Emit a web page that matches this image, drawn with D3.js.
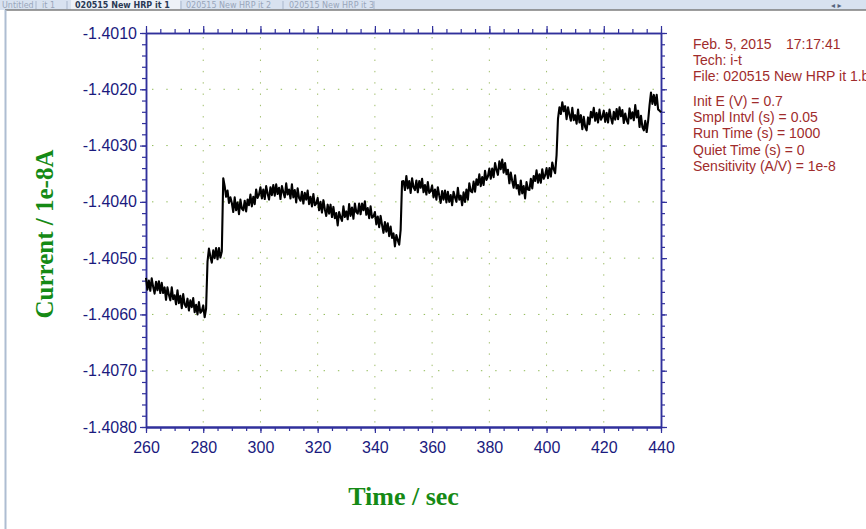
<!DOCTYPE html>
<html>
<head>
<meta charset="utf-8">
<script src="https://cdn.jsdelivr.net/npm/d3@7"></script>
<style>
  html, body { margin: 0; padding: 0; background: #ffffff; }
  svg { display: block; }
</style>
</head>
<body>
<svg id="chart" width="866" height="529"></svg>
<script>
// i-t trace: current (units of 1e-8 A) sampled every 0.5 s from 260 s to 440 s
const startTime = 260;
const sampleStep = 0.5;
const current = [
  -1.40535,-1.40556,-1.40540,-1.40558,-1.40536,-1.40551,-1.40563,-1.40542,-1.40557,-1.40541, // 260
  -1.40562,-1.40544,-1.40562,-1.40552,-1.40574,-1.40552,-1.40565,-1.40575,-1.40552,-1.40573, // 265
  -1.40566,-1.40582,-1.40557,-1.40580,-1.40567,-1.40589,-1.40564,-1.40582,-1.40587,-1.40572, // 270
  -1.40593,-1.40575,-1.40587,-1.40571,-1.40596,-1.40583,-1.40600,-1.40578,-1.40597,-1.40594, // 275
  -1.40584,-1.40605,-1.40590,-1.40506,-1.40483,-1.40497,-1.40508,-1.40486,-1.40500,-1.40482, // 280
  -1.40502,-1.40482,-1.40499,-1.40488,-1.40358,-1.40372,-1.40391,-1.40380,-1.40402,-1.40392, // 285
  -1.40402,-1.40418,-1.40392,-1.40415,-1.40401,-1.40422,-1.40396,-1.40412,-1.40415,-1.40398, // 290
  -1.40417,-1.40396,-1.40406,-1.40387,-1.40408,-1.40391,-1.40404,-1.40378,-1.40393,-1.40387, // 295
  -1.40374,-1.40394,-1.40378,-1.40395,-1.40372,-1.40385,-1.40396,-1.40374,-1.40388,-1.40370, // 300
  -1.40389,-1.40369,-1.40386,-1.40375,-1.40395,-1.40372,-1.40383,-1.40392,-1.40367,-1.40387, // 305
  -1.40378,-1.40394,-1.40369,-1.40392,-1.40379,-1.40401,-1.40376,-1.40393,-1.40398,-1.40382, // 310
  -1.40403,-1.40384,-1.40396,-1.40380,-1.40404,-1.40391,-1.40408,-1.40386,-1.40406,-1.40403, // 315
  -1.40393,-1.40415,-1.40400,-1.40419,-1.40397,-1.40413,-1.40425,-1.40405,-1.40421,-1.40405, // 320
  -1.40427,-1.40409,-1.40429,-1.40420,-1.40442,-1.40418,-1.40427,-1.40434,-1.40408,-1.40427, // 325
  -1.40417,-1.40431,-1.40404,-1.40425,-1.40410,-1.40430,-1.40403,-1.40418,-1.40421,-1.40403, // 330
  -1.40422,-1.40403,-1.40415,-1.40399,-1.40423,-1.40411,-1.40429,-1.40408,-1.40428,-1.40426, // 335
  -1.40418,-1.40440,-1.40426,-1.40445,-1.40425,-1.40441,-1.40455,-1.40436,-1.40453,-1.40438, // 340
  -1.40461,-1.40444,-1.40464,-1.40456,-1.40479,-1.40459,-1.40468,-1.40476,-1.40450,-1.40364, // 345
  -1.40363,-1.40379,-1.40354,-1.40376,-1.40363,-1.40384,-1.40358,-1.40374,-1.40379,-1.40362, // 350
  -1.40383,-1.40363,-1.40375,-1.40359,-1.40383,-1.40370,-1.40387,-1.40365,-1.40384,-1.40381, // 355
  -1.40371,-1.40392,-1.40378,-1.40396,-1.40374,-1.40389,-1.40402,-1.40381,-1.40396,-1.40380, // 360
  -1.40401,-1.40382,-1.40400,-1.40388,-1.40406,-1.40382,-1.40392,-1.40400,-1.40375,-1.40396, // 365
  -1.40389,-1.40406,-1.40383,-1.40400,-1.40378,-1.40396,-1.40367,-1.40381,-1.40383,-1.40364, // 370
  -1.40382,-1.40360,-1.40370,-1.40351,-1.40372,-1.40356,-1.40370,-1.40345,-1.40361,-1.40355, // 375
  -1.40341,-1.40359,-1.40341,-1.40356,-1.40331,-1.40343,-1.40352,-1.40328,-1.40342,-1.40325, // 380
  -1.40348,-1.40331,-1.40351,-1.40343,-1.40367,-1.40348,-1.40363,-1.40375,-1.40353,-1.40376, // 385
  -1.40370,-1.40387,-1.40362,-1.40385,-1.40372,-1.40394,-1.40365,-1.40378,-1.40379,-1.40359, // 390
  -1.40376,-1.40354,-1.40363,-1.40344,-1.40366,-1.40351,-1.40366,-1.40342,-1.40359,-1.40353, // 395
  -1.40340,-1.40358,-1.40340,-1.40355,-1.40330,-1.40342,-1.40349,-1.40317,-1.40252,-1.40232, // 400
  -1.40244,-1.40223,-1.40239,-1.40230,-1.40253,-1.40232,-1.40245,-1.40256,-1.40233,-1.40255, // 405
  -1.40246,-1.40261,-1.40236,-1.40259,-1.40246,-1.40271,-1.40249,-1.40267,-1.40273,-1.40250, // 410
  -1.40262,-1.40240,-1.40250,-1.40233,-1.40256,-1.40242,-1.40259,-1.40236,-1.40254,-1.40249, // 415
  -1.40238,-1.40258,-1.40242,-1.40259,-1.40236,-1.40250,-1.40261,-1.40240,-1.40254,-1.40235, // 420
  -1.40253,-1.40232,-1.40248,-1.40237,-1.40260,-1.40243,-1.40255,-1.40261,-1.40234,-1.40252, // 425
  -1.40241,-1.40255,-1.40228,-1.40250,-1.40238,-1.40267,-1.40247,-1.40267,-1.40273,-1.40256, // 430
  -1.40276,-1.40256,-1.40228,-1.40206,-1.40226,-1.40210,-1.40228,-1.40210,-1.40236,-1.40238, // 435
  -1.40241                                                                                    // 440
];

// axis ticks
const timeTicks = [260, 280, 300, 320, 340, 360, 380, 400, 420, 440];
const currentTicks = [-1.4010, -1.4020, -1.4030, -1.4040, -1.4050, -1.4060, -1.4070, -1.4080];

// instrument header lines
const headerLines = [
  "Tech: i-t",
  "File: 020515 New HRP it 1.bin"
];
const paramLines = [
  "Init E (V) = 0.7",
  "Smpl Intvl (s) = 0.05",
  "Run Time (s) = 1000",
  "Quiet Time (s) = 0",
  "Sensitivity (A/V) = 1e-8"
];
const tabLabels = ["Untitled", "it 1", "020515 New HRP it 1", "020515 New HRP it 2", "020515 New HRP it 3"];

const svg = d3.select("#chart");
const W = 866, H = 529;

// ---- window chrome: tab strip and document frame ----
svg.append("rect").attr("x", 0).attr("y", 0).attr("width", W).attr("height", 10).attr("fill", "#d8e2f0");
svg.append("rect").attr("x", 71).attr("y", 0).attr("width", 109).attr("height", 10).attr("fill", "#eef2f8");
const tabFont = "'DejaVu Sans', sans-serif";
const tabX = [2, 42, 75, 186, 289];
tabLabels.forEach((t, i) => {
  svg.append("text")
    .attr("x", tabX[i]).attr("y", 8)
    .attr("font-family", tabFont).attr("font-size", 8)
    .attr("font-weight", i === 2 ? "bold" : "normal")
    .attr("fill", i === 2 ? "#2a3a55" : "#98a6bb")
    .text(t);
});
[36, 67, 181, 283, 374].forEach(x => {
  svg.append("line").attr("x1", x).attr("x2", x).attr("y1", 1).attr("y2", 9)
    .attr("stroke", "#a8b6cc").attr("stroke-width", 1);
});
svg.append("text").attr("x", 831).attr("y", 8).attr("font-family", tabFont).attr("font-size", 8)
  .attr("fill", "#55657d").text("◂  ▸");
svg.append("line").attr("x1", 5).attr("x2", W).attr("y1", 10).attr("y2", 10)
  .attr("stroke", "#7c7c7c").attr("stroke-width", 1.5);
svg.append("line").attr("x1", 5.5).attr("x2", 5.5).attr("y1", 10).attr("y2", H)
  .attr("stroke", "#aebdd2").attr("stroke-width", 2);

// ---- scales ----
const margin = { left: 146, right: 661, top: 33, bottom: 427 };
const x = d3.scaleLinear().domain([260, 440]).range([margin.left, margin.right]);
const y = d3.scaleLinear().domain([-1.4080, -1.4010]).range([margin.bottom, margin.top]);

const axisColor = "#30309c";
const labelColor = "#1a1a7e";

// ---- dotted grid at major ticks ----
const grid = svg.append("g").attr("class", "grid");
grid.selectAll("line.gx").data(timeTicks.slice(1, -1)).join("line")
  .attr("x1", d => x(d)).attr("x2", d => x(d))
  .attr("y1", margin.top + 4).attr("y2", margin.bottom)
  .attr("stroke", "#9fbd6a").attr("stroke-width", 1)
  .attr("stroke-dasharray", "1.4,9.9");
grid.selectAll("line.gy").data(currentTicks.slice(1, -1)).join("line")
  .attr("x1", margin.left + 6).attr("x2", margin.right)
  .attr("y1", d => y(d)).attr("y2", d => y(d))
  .attr("stroke", "#8fba55").attr("stroke-width", 1)
  .attr("stroke-dasharray", "1.4,12.9");

// ---- axes on all four sides ----
const minorX = d3.range(260, 441, 5);
const minorY = d3.range(0, 36).map(i => -1.4080 + i * 0.0002);

function styleAxis(g, width) {
  g.select(".domain").attr("stroke", axisColor).attr("stroke-width", width);
  g.selectAll(".tick line").attr("stroke", axisColor).attr("stroke-width", 1.2);
  g.selectAll(".tick text").attr("fill", labelColor)
    .attr("font-family", "'Liberation Sans', Arial, sans-serif").attr("font-size", 16);
}

// bottom
svg.append("g").attr("transform", `translate(0,${margin.bottom})`)
  .call(d3.axisBottom(x).tickValues(minorX).tickSize(4).tickFormat("").tickSizeOuter(0))
  .call(g => styleAxis(g, 2.2));
svg.append("g").attr("transform", `translate(0,${margin.bottom})`)
  .call(d3.axisBottom(x).tickValues(timeTicks).tickSize(6).tickPadding(9).tickFormat(d => String(d)).tickSizeOuter(0))
  .call(g => styleAxis(g, 2.2));
// top
svg.append("g").attr("transform", `translate(0,${margin.top})`)
  .call(d3.axisTop(x).tickValues(minorX).tickSize(4).tickFormat("").tickSizeOuter(0))
  .call(g => styleAxis(g, 1.5));
svg.append("g").attr("transform", `translate(0,${margin.top})`)
  .call(d3.axisTop(x).tickValues(timeTicks).tickSize(7).tickFormat("").tickSizeOuter(0))
  .call(g => styleAxis(g, 1.5));
// left
svg.append("g").attr("transform", `translate(${margin.left},0)`)
  .call(d3.axisLeft(y).tickValues(minorY).tickSize(4).tickFormat("").tickSizeOuter(0))
  .call(g => styleAxis(g, 1.5));
svg.append("g").attr("transform", `translate(${margin.left},0)`)
  .call(d3.axisLeft(y).tickValues(currentTicks).tickSize(6).tickPadding(3).tickFormat(d => d.toFixed(4)).tickSizeOuter(0))
  .call(g => styleAxis(g, 1.5));
// right
svg.append("g").attr("transform", `translate(${margin.right},0)`)
  .call(d3.axisRight(y).tickValues(minorY).tickSize(4).tickFormat("").tickSizeOuter(0))
  .call(g => styleAxis(g, 1.5));
svg.append("g").attr("transform", `translate(${margin.right},0)`)
  .call(d3.axisRight(y).tickValues(currentTicks).tickSize(6).tickFormat("").tickSizeOuter(0))
  .call(g => styleAxis(g, 1.5));

// ---- the current trace ----
const series = current.map((v, i) => ({ t: startTime + i * sampleStep, v }));
svg.append("path")
  .datum(series)
  .attr("fill", "none")
  .attr("stroke", "#000000")
  .attr("stroke-width", 2.1)
  .attr("stroke-linejoin", "round")
  .attr("d", d3.line().x(d => x(d.t)).y(d => y(d.v)));

// ---- axis titles ----
const titleColor = "#158a15";
const titleFont = "'Liberation Serif', 'Times New Roman', serif";
svg.append("text")
  .attr("x", (margin.left + margin.right) / 2).attr("y", 505)
  .attr("text-anchor", "middle")
  .attr("font-family", titleFont).attr("font-weight", "bold").attr("font-size", 26)
  .attr("fill", titleColor)
  .text("Time / sec");
svg.append("text")
  .attr("transform", "translate(53,234) rotate(-90)")
  .attr("text-anchor", "middle")
  .attr("font-family", titleFont).attr("font-weight", "bold").attr("font-size", 25)
  .attr("fill", titleColor)
  .text("Current / 1e-8A");

// ---- run parameters ----
const infoColor = "#a02c2c";
const infoFont = "'Liberation Sans', Arial, sans-serif";
const info = svg.append("g").attr("font-family", infoFont).attr("font-size", 14).attr("fill", infoColor);
info.append("text").attr("x", 693).attr("y", 49).text("Feb. 5, 2015");
info.append("text").attr("x", 786).attr("y", 49).text("17:17:41");
info.selectAll("text.hdr").data(headerLines).join("text")
  .attr("x", 693).attr("y", (d, i) => 65 + i * 16.2).text(d => d);
info.selectAll("text.par").data(paramLines).join("text")
  .attr("x", 693).attr("y", (d, i) => 105.5 + i * 16.4).text(d => d);
</script>
</body>
</html>
